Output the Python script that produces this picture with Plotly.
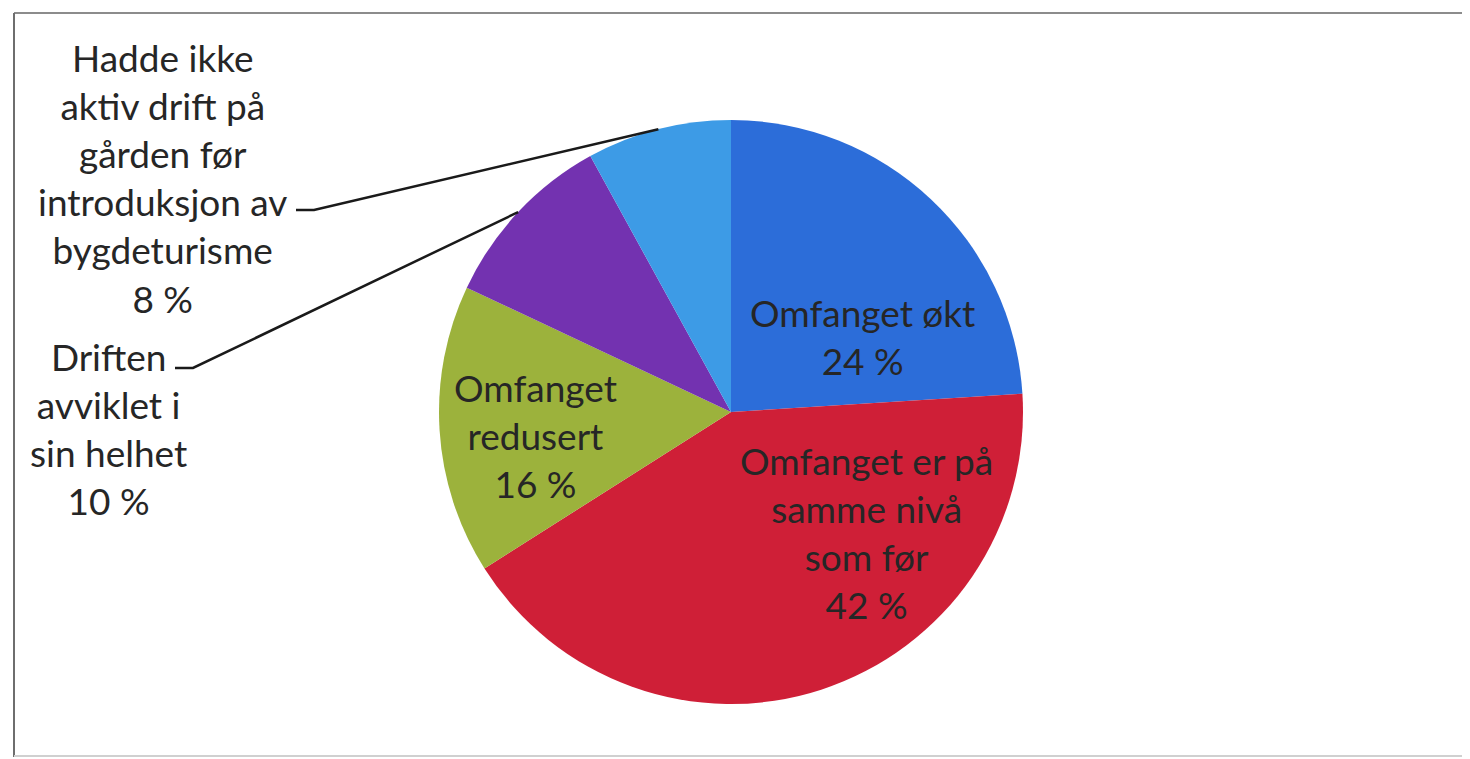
import math
import plotly.graph_objects as go

# ---- data ----
labels = [
    "Omfanget økt",
    "Omfanget er på samme nivå som før",
    "Omfanget redusert",
    "Driften avviklet i sin helhet",
    "Hadde ikke aktiv drift på gården før introduksjon av bygdeturisme",
]
values = [24, 42, 16, 10, 8]
label_lines = [
    ["Omfanget økt"],
    ["Omfanget er på", "samme nivå", "som før"],
    ["Omfanget", "redusert"],
    ["Driften", "avviklet i", "sin helhet"],
    ["Hadde ikke", "aktiv drift på", "gården før", "introduksjon av", "bygdeturisme"],
]
colors = ["#2c6dd9", "#cf1f37", "#9cb23c", "#7332b0", "#3d9be6"]

# ---- layout (pixels in the screenshot) ----
W, H = 1470, 759
OFF = 8  # default page body margin
CX, CY, R = 731, 412, 292
FONT = "Lato"
FS = 37
label_pos = [(862, 336), (866, 532), (535, 435), (108, 428), (162, 178)]
leader_start = {3: [(175, 368), (193, 368)], 4: [(296, 210), (314, 210)]}


def px(x):
    return (x - OFF) / W


def py(y):
    return 1 - (y - OFF) / H


fig = go.Figure()
fig.add_trace(go.Pie(
    labels=labels,
    values=values,
    sort=False,
    direction="clockwise",
    rotation=0,
    textinfo="none",
    hoverinfo="label+percent",
    marker=dict(colors=colors, line=dict(width=0)),
    showlegend=False,
    domain=dict(x=[px(CX - R), px(CX + R)], y=[py(CY + R), py(CY - R)]),
))

total = sum(values)
annotations = []
shapes = []
cum = 0
for i, (lines, v) in enumerate(zip(label_lines, values)):
    pct = round(100 * v / total)
    text = "<br>".join(lines + [f"{pct} %"])
    x, y = label_pos[i]
    annotations.append(dict(
        x=px(x), y=py(y), xref="paper", yref="paper",
        text=text, showarrow=False, xanchor="center", yanchor="middle",
        font=dict(family=FONT, size=FS, color="#262626"), align="center",
    ))
    mid = (cum + v / 2) / total * 2 * math.pi
    cum += v
    if i in leader_start:
        ex = CX + R * math.sin(mid)
        ey = CY - R * math.cos(mid)
        pts = leader_start[i] + [(ex, ey)]
        path = "M " + " L ".join(f"{px(a)},{py(b)}" for a, b in pts)
        shapes.append(dict(type="path", xref="paper", yref="paper", path=path,
                           line=dict(color="#1a1a1a", width=2.5)))

# chart frame
shapes.append(dict(type="line", xref="paper", yref="paper", x0=px(14), x1=px(1480), y0=py(13), y1=py(13),
                   line=dict(color="#8c8c8c", width=2)))
shapes.append(dict(type="line", xref="paper", yref="paper", x0=px(14), x1=px(14), y0=py(13), y1=py(757),
                   line=dict(color="#6e6e6e", width=2)))
shapes.append(dict(type="line", xref="paper", yref="paper", x0=px(14), x1=px(1480), y0=py(756), y1=py(756),
                   line=dict(color="#d0d0d0", width=2)))

fig.update_layout(
    width=W, height=H,
    margin=dict(l=0, r=0, t=0, b=0),
    paper_bgcolor="white", plot_bgcolor="white",
    annotations=annotations, shapes=shapes,
)
fig.write_html("out.html")
